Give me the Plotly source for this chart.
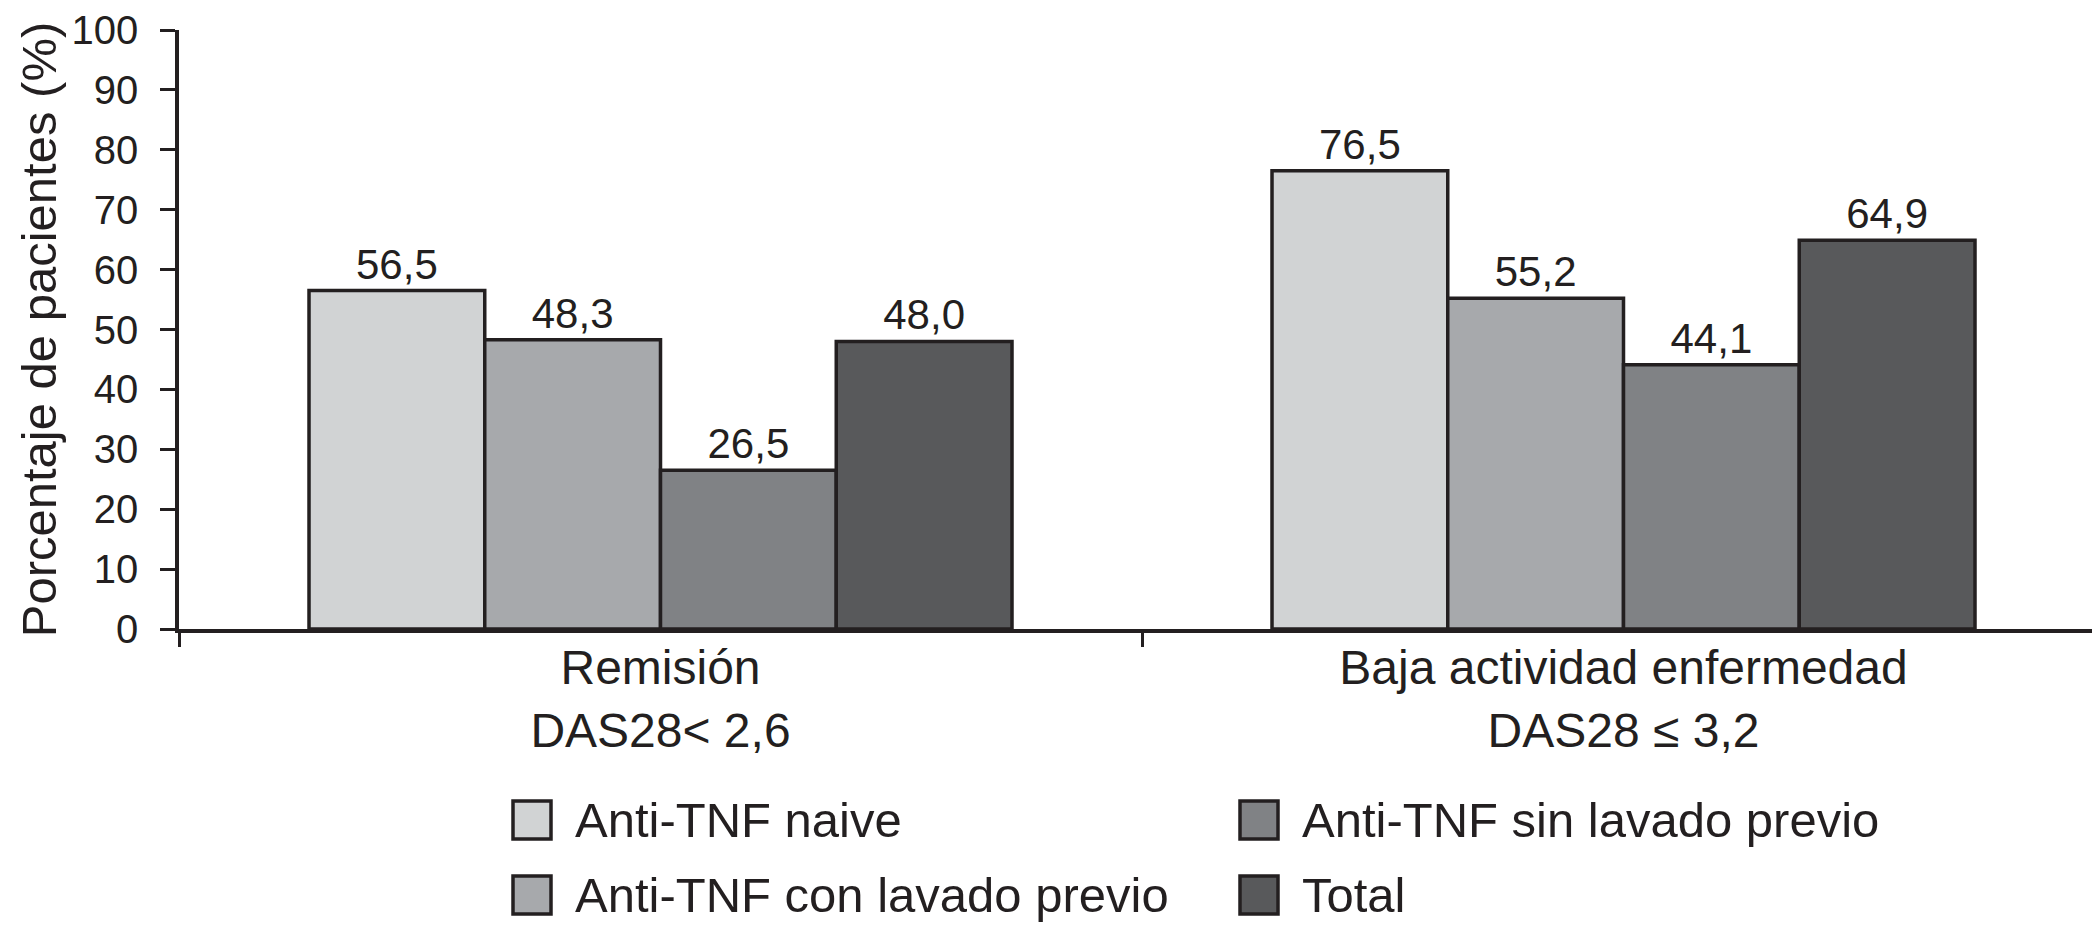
import plotly.graph_objects as go

categories = ["Remisión<br>DAS28< 2,6", "Baja actividad enfermedad<br>DAS28 ≤ 3,2"]
series_names = ["Anti-TNF naive", "Anti-TNF con lavado previo", "Anti-TNF sin lavado previo", "Total"]
naive = [56.5, 76.5]
con_lavado = [48.3, 55.2]
sin_lavado = [26.5, 44.1]
total = [48.0, 64.9]
series_values = [naive, con_lavado, sin_lavado, total]
colors = ["#d1d3d4", "#a7a9ac", "#808285", "#58595b"]
y_ticks = [0, 10, 20, 30, 40, 50, 60, 70, 80, 90, 100]

W, H = 2100, 935
L, R, T, B = 171, 3, 22, 314
INK = "#231f20"
FONT = "Liberation Sans, Arial, Helvetica, sans-serif"

fig = go.Figure()
for name, vals, col in zip(series_names, series_values, colors):
    fig.add_trace(go.Bar(
        x=categories, y=vals, name=name,
        marker=dict(color=col, line=dict(color=INK, width=3.5)),
        texttemplate="%{y:.1f}", textposition="outside",
        textfont=dict(size=42, color=INK, family=FONT),
        cliponaxis=False, showlegend=False,
    ))

# Legend drawn as shapes + text (two columns, row-wise: naive, sin / con, total)
pw = W - L - R
ph = H - T - B
def px_x(x):
    return (x - L) / pw
def px_y(y):
    return (H - B - y) / ph

legend_order = [0, 2, 1, 3]
col_x = [505, 1232]
row_y = [812, 887]
sw = 38
for k, idx in enumerate(legend_order):
    c = k % 2
    r = k // 2
    x0 = col_x[c]
    yc = row_y[r]
    fig.add_shape(type="rect", xref="paper", yref="paper",
                  x0=px_x(x0), x1=px_x(x0 + sw),
                  y0=px_y(yc + sw / 2), y1=px_y(yc - sw / 2),
                  fillcolor=colors[idx], line=dict(color=INK, width=3.5))
    fig.add_annotation(xref="paper", yref="paper", x=px_x(x0 + sw + 22), y=px_y(yc),
                       text=series_names[idx], showarrow=False,
                       xanchor="left", yanchor="middle",
                       font=dict(size=49, color=INK, family=FONT))

fig.update_layout(
    width=W, height=H,
    margin=dict(l=L, r=R, t=T, b=B, autoexpand=False),
    paper_bgcolor="white", plot_bgcolor="white",
    barmode="group", bargap=0.27, bargroupgap=0,
    separators=",.",
    font=dict(family=FONT, color=INK),
    showlegend=False,
)
fig.update_xaxes(
    showline=True, linecolor=INK, linewidth=3.5,
    ticks="outside", tickson="boundaries", ticklen=14, tickwidth=3, tickcolor=INK,
    tickfont=dict(size=48, color=INK, family=FONT),
    ticklabelstandoff=-6,
    showgrid=False, zeroline=False,
)
fig.update_yaxes(
    range=[0, 100], tickvals=y_ticks,
    showline=True, linecolor=INK, linewidth=3.5,
    ticks="outside", ticklen=15, tickwidth=3, tickcolor=INK,
    tickfont=dict(size=40, color=INK, family=FONT),
    ticklabelstandoff=14,
    showgrid=False, zeroline=False,
    title=dict(text="Porcentaje de pacientes (%)", font=dict(size=49, color=INK, family=FONT), standoff=0),
)

fig.write_html("out.html")
